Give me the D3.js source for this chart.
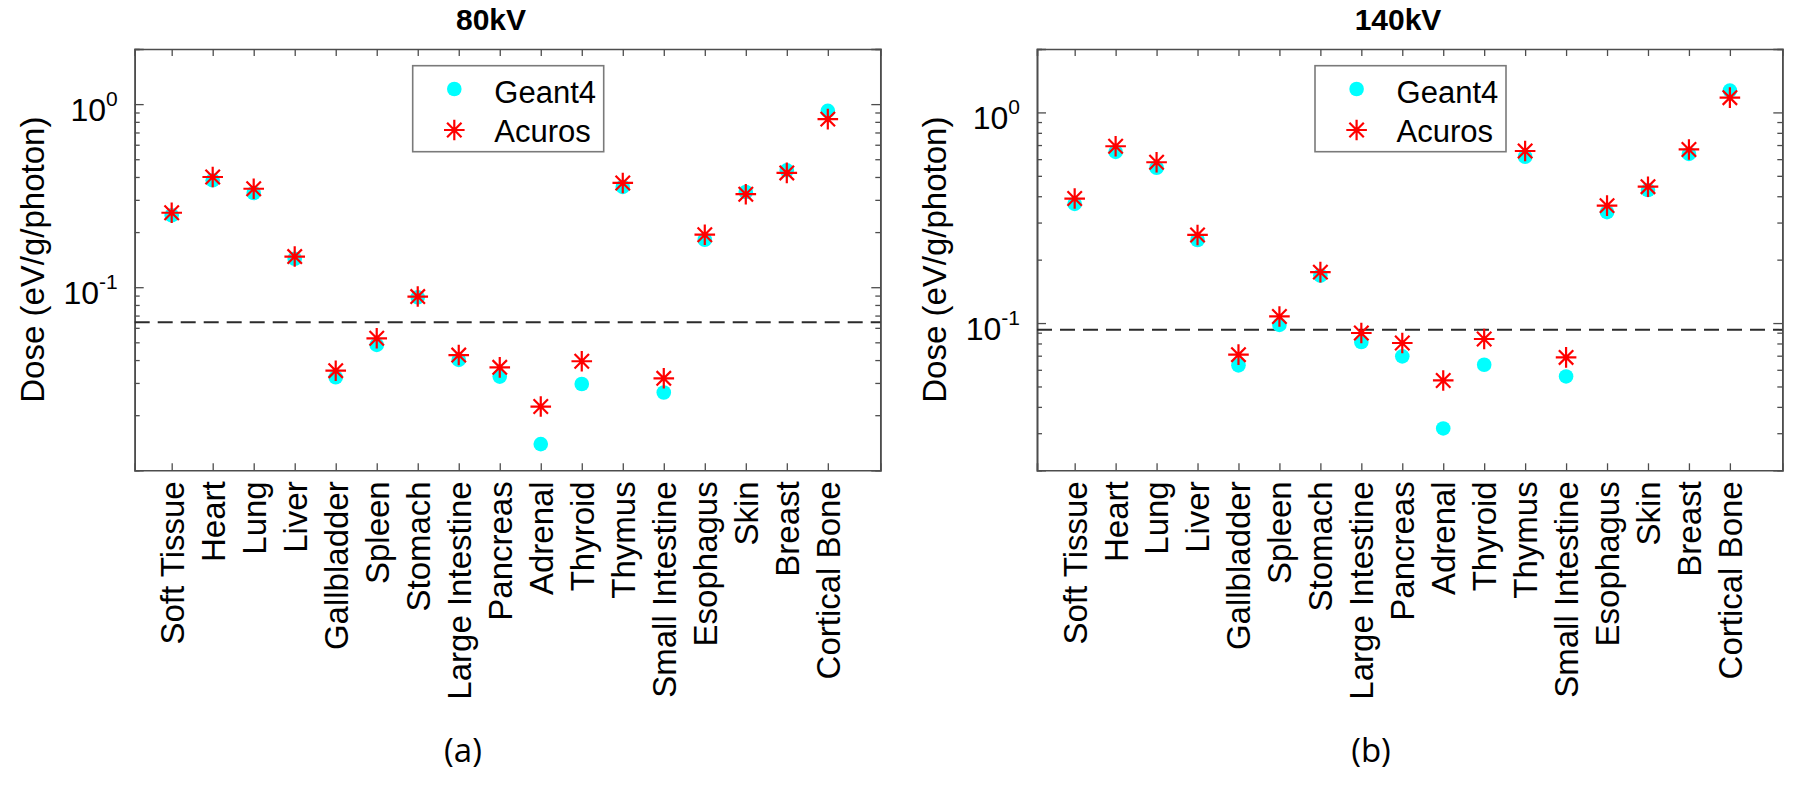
<!DOCTYPE html>
<html>
<head>
<meta charset="utf-8">
<script src="https://cdn.jsdelivr.net/npm/d3@7/dist/d3.min.js"></script>
<style>
  html, body { margin: 0; padding: 0; background: #fff; }
  svg { display: block; }
</style>
</head>
<body>
<svg id="chart" width="1800" height="788"></svg>
<script>
// ---------- data ----------
const categories = ["Soft Tissue", "Heart", "Lung", "Liver", "Gallbladder", "Spleen", "Stomach",
  "Large Intestine", "Pancreas", "Adrenal", "Thyroid", "Thymus", "Small Intestine", "Esophagus",
  "Skin", "Breast", "Cortical Bone"];

const geant80  = [0.247, 0.384, 0.327, 0.143, 0.0322, 0.0484, 0.088, 0.0401, 0.0325, 0.0139, 0.0296, 0.353, 0.0266, 0.1816, 0.331, 0.435, 0.919];
const acuros80 = [0.255, 0.400, 0.345, 0.147, 0.0350, 0.0526, 0.0889, 0.0426, 0.0365, 0.0223, 0.0394, 0.371, 0.0318, 0.1935, 0.322, 0.421, 0.828];
const threshold80 = 0.0643;

const geant140  = [0.368, 0.649, 0.546, 0.248, 0.0630, 0.098, 0.168, 0.0813, 0.0695, 0.0316, 0.0634, 0.616, 0.0558, 0.336, 0.428, 0.635, 1.27];
const acuros140 = [0.390, 0.691, 0.580, 0.262, 0.0708, 0.1075, 0.1745, 0.0897, 0.0804, 0.0534, 0.0840, 0.656, 0.0687, 0.361, 0.444, 0.667, 1.175];
const threshold140 = 0.0929;

const seriesNames = ["Geant4", "Acuros"];
const panelTitles = ["80kV", "140kV"];
const panelCaptions = ["(a)", "(b)"];
const yMajorTicks = [0.1, 1];
const yMajorExp = ["-1", "0"];

// ---------- layout ----------
const svg = d3.select("#chart");
const FONT = "'Liberation Sans', Arial, Helvetica, sans-serif";
const AXIS_COLOR = "#4d4d4d";

const panels = [
  { left: 134.7, right: 880.3, top: 49, bottom: 470.3, xDomain: [0.098, 18.28], yDomain: [0.01, 2],
    geant: geant80, acuros: acuros80, thr: threshold80, title: panelTitles[0], titleX: 491,
    caption: panelCaptions[0], captionX: 463 },
  { left: 1037, right: 1782.3, top: 49, bottom: 470.3, xDomain: [0.08, 18.28], yDomain: [0.02, 2],
    geant: geant140, acuros: acuros140, thr: threshold140, title: panelTitles[1], titleX: 1398,
    caption: panelCaptions[1], captionX: 1371 }
];

function starPath(s) {
  const d = s * 0.7;
  return `M${-s},0L${s},0M0,${-s}L0,${s}M${-d},${-d}L${d},${d}M${-d},${d}L${d},${-d}`;
}

panels.forEach(p => {
  const x = d3.scaleLinear().domain(p.xDomain).range([p.left, p.right]);
  const y = d3.scaleLog().domain(p.yDomain).range([p.bottom, p.top]);
  const g = svg.append("g");
  const idx = d3.range(1, categories.length + 1);

  // minor y ticks
  const minor = [];
  [0.01, 0.1, 1].forEach(dec => { for (let k = 2; k <= 9; k++) { const v = dec * k; if (v > p.yDomain[0] * 1.0001 && v < p.yDomain[1] * 0.9999) minor.push(v); } });

  // axes: bottom / top with inward ticks
  const axB = g.append("g").attr("transform", `translate(0,${p.bottom})`)
    .call(d3.axisBottom(x).tickValues(idx).tickSize(-7).tickFormat(""));
  const axT = g.append("g").attr("transform", `translate(0,${p.top})`)
    .call(d3.axisTop(x).tickValues(idx).tickSize(-7).tickFormat(""));
  const axLmin = g.append("g").attr("transform", `translate(${p.left},0)`)
    .call(d3.axisLeft(y).tickValues(minor).tickSize(-5).tickFormat(""));
  const axLmaj = g.append("g").attr("transform", `translate(${p.left},0)`)
    .call(d3.axisLeft(y).tickValues(yMajorTicks).tickSize(-9).tickFormat(""));
  const axRmin = g.append("g").attr("transform", `translate(${p.right},0)`)
    .call(d3.axisRight(y).tickValues(minor).tickSize(-5).tickFormat(""));
  const axRmaj = g.append("g").attr("transform", `translate(${p.right},0)`)
    .call(d3.axisRight(y).tickValues(yMajorTicks).tickSize(-9).tickFormat(""));
  [axB, axT, axLmin, axLmaj, axRmin, axRmaj].forEach(a => {
    a.selectAll("path.domain").attr("stroke", AXIS_COLOR).attr("stroke-width", 1.6);
    a.selectAll(".tick line").attr("stroke", AXIS_COLOR).attr("stroke-width", 1.3);
  });

  // x tick labels (rotated)
  g.append("g").selectAll("text").data(categories).join("text")
    .attr("transform", (d, i) => `translate(${x(i + 1)},${p.bottom + 11}) rotate(-90)`)
    .attr("text-anchor", "end")
    .attr("dy", "0.36em")
    .attr("font-family", FONT).attr("font-size", 33).attr("fill", "#000")
    .text(d => d);

  // y tick labels with superscript
  const yl = g.append("g").selectAll("text").data(yMajorTicks).join("text")
    .attr("x", p.left - 17).attr("y", d => y(d) + 17)
    .attr("text-anchor", "end")
    .attr("font-family", FONT).attr("fill", "#000");
  yl.append("tspan").attr("font-size", 32).text("10");
  yl.append("tspan").attr("font-size", 21).attr("dy", -15).text((d, i) => yMajorExp[i]);

  // y axis title
  g.append("text")
    .attr("transform", `translate(${p.left - 91},${(p.top + p.bottom) / 2}) rotate(-90)`)
    .attr("text-anchor", "middle")
    .attr("font-family", FONT).attr("font-size", 33).attr("fill", "#000")
    .text("Dose (eV/g/photon)");

  // dashed threshold
  g.append("line")
    .attr("x1", x(p.xDomain[0])).attr("x2", x(p.xDomain[1]))
    .attr("y1", y(p.thr)).attr("y2", y(p.thr))
    .attr("stroke", "#2b2b2b").attr("stroke-width", 2)
    .attr("stroke-dasharray", "15,8");

  // Geant4 circles
  g.append("g").selectAll("circle").data(p.geant).join("circle")
    .attr("cx", (d, i) => x(i + 1)).attr("cy", d => y(d))
    .attr("r", 7.3).attr("fill", "#00ffff");

  // Acuros stars
  g.append("g").selectAll("path").data(p.acuros).join("path")
    .attr("transform", (d, i) => `translate(${x(i + 1)},${y(d)})`)
    .attr("d", starPath(10.3))
    .attr("stroke", "#ff0000").attr("stroke-width", 2.2).attr("fill", "none");

  // legend
  const lx = p.left + 278, ly = 65.7;
  const lg = g.append("g").attr("transform", `translate(${lx},${ly})`);
  lg.append("rect").attr("width", 191).attr("height", 86)
    .attr("fill", "#fff").attr("stroke", "#7a7a7a").attr("stroke-width", 1.6);
  lg.append("circle").attr("cx", 41.6).attr("cy", 23.3).attr("r", 7.3).attr("fill", "#00ffff");
  lg.append("path").attr("transform", "translate(41.6,64.3)").attr("d", starPath(10.3))
    .attr("stroke", "#ff0000").attr("stroke-width", 2.2).attr("fill", "none");
  lg.selectAll("text.leg").data(seriesNames).join("text").attr("class", "leg")
    .attr("x", 81.6).attr("y", (d, i) => 37 + i * 39)
    .attr("font-family", FONT).attr("font-size", 31).attr("fill", "#000")
    .text(d => d);

  // title
  g.append("text").attr("x", p.titleX).attr("y", 30)
    .attr("text-anchor", "middle")
    .attr("font-family", FONT).attr("font-size", 30).attr("font-weight", "bold").attr("fill", "#000")
    .text(p.title);

  // caption
  g.append("text").attr("x", p.captionX).attr("y", 762)
    .attr("text-anchor", "middle")
    .attr("font-family", "'Open Sans', 'Noto Sans', sans-serif").attr("font-size", 33).attr("fill", "#000")
    .text(p.caption);
});
</script>
</body>
</html>
